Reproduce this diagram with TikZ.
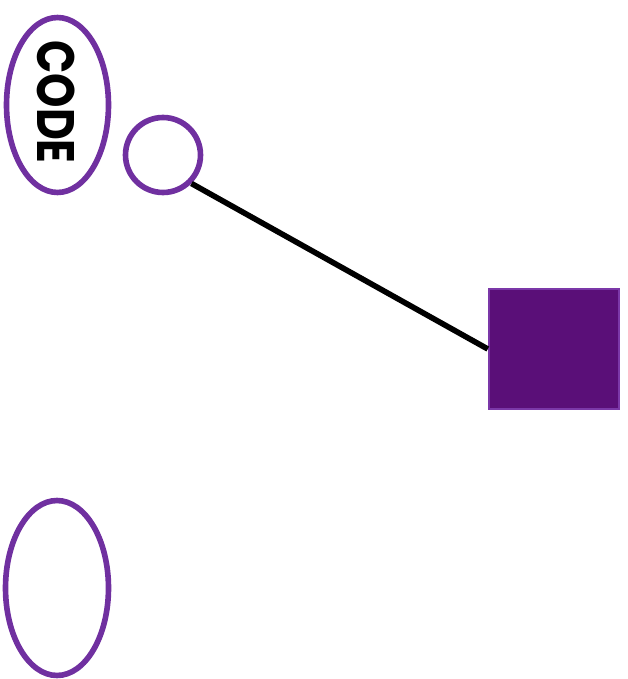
\documentclass[tikz,border=0pt]{standalone}
\usepackage{fontspec}
\newfontfamily\codefont{Poppins}
\usepackage{tikz}
\usetikzlibrary{shapes.geometric}

\definecolor{lilac}{HTML}{7030A0}
\definecolor{plum}{HTML}{5A0F78}
\definecolor{plumedge}{HTML}{7B38A8}

\begin{document}
\begin{tikzpicture}
[x=0.02cm,y=-0.02cm]

	\useasboundingbox (0,0) rectangle (628,679);
	%\draw[gray,step=20] (0,0) grid (628,679);

	\node[draw=lilac,line width=3.2pt,ellipse,inner sep=0,
		minimum width=2.04cm,minimum height=3.5cm] (code) at (57.5,105) {};
	\node[rotate=-90,inner sep=0] (codetext) at (56,102)
	{\codefont\bfseries\fontsize{30}{30}\selectfont\scalebox{0.83}[1]{CODE}};

	\node[draw=lilac,line width=3.2pt,circle,inner sep=0,
		minimum size=1.5cm] (dot) at (163,155) {};

	\node[draw=plumedge,fill=plum,line width=1.4pt,rectangle,inner sep=0,
		minimum width=2.6cm,minimum height=2.4cm] (box) at (554,349) {};

	\node[draw=lilac,line width=3.2pt,ellipse,inner sep=0,
		minimum width=2.06cm,minimum height=3.5cm] (blank) at (57,588) {};

	\draw[line width=3.2pt,black] (dot.south east) -- (box.west);
\end{tikzpicture}
\end{document}
